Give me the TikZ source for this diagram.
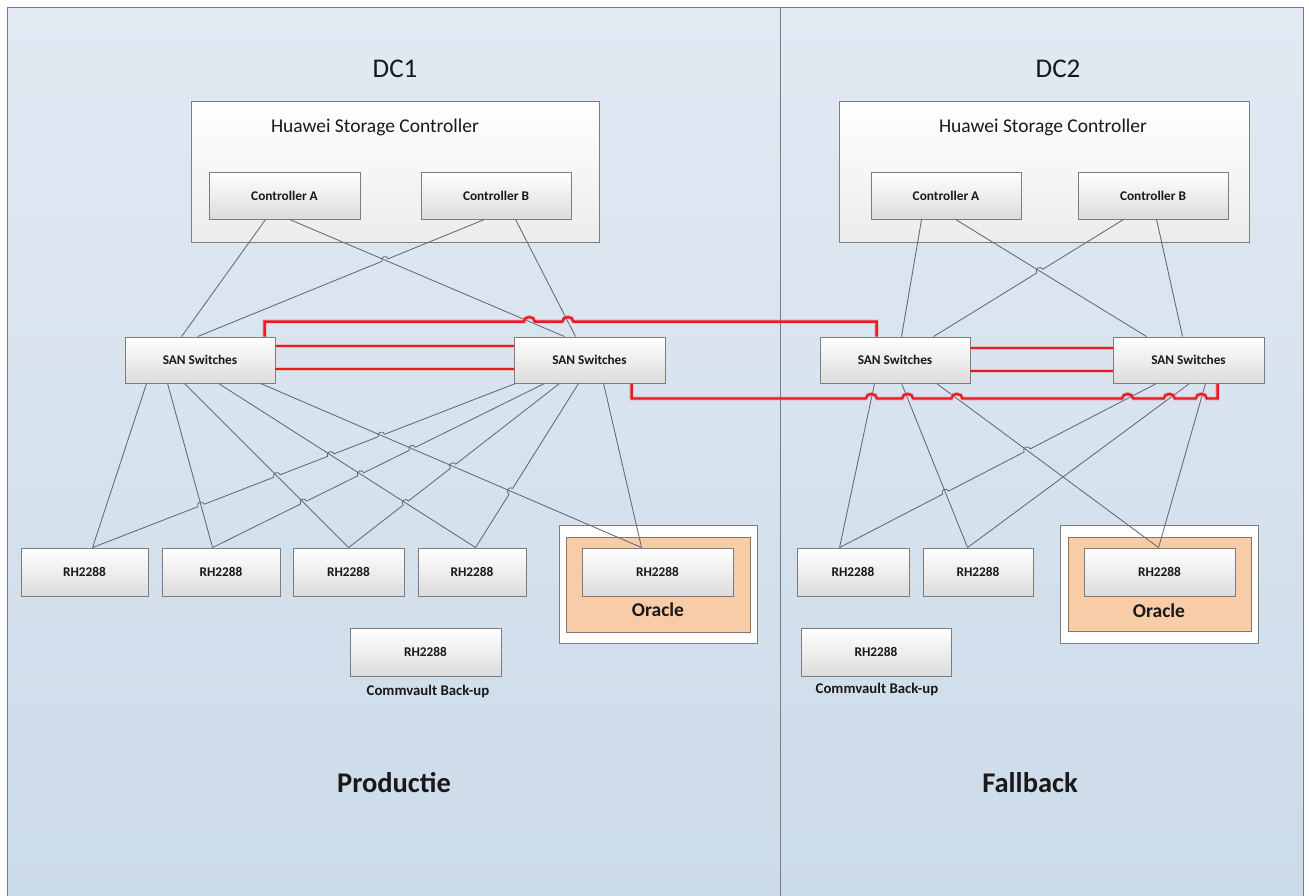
\documentclass[tikz,border=0pt]{standalone}
\usepackage{fontspec}
\setmainfont{Carlito}
\usetikzlibrary{calc,intersections,shadows}
\definecolor{bgtop}{RGB}{225,234,243}
\definecolor{bgbot}{RGB}{204,219,233}
\definecolor{framecol}{RGB}{120,125,130}
\definecolor{wirecol}{RGB}{96,106,116}
\definecolor{redcol}{RGB}{232,28,36}
\definecolor{redglow}{RGB}{240,150,155}
\definecolor{orfill}{RGB}{247,204,166}
\definecolor{oredge}{RGB}{140,115,95}
\definecolor{boxedge}{RGB}{125,125,125}
\definecolor{boxbot}{RGB}{220,220,220}
\definecolor{bigbot}{RGB}{236,236,236}
\definecolor{txt}{RGB}{25,25,25}
\tikzset{
  every node/.style={text=txt},
  box/.style={draw=boxedge, line width=0.9pt, top color=white, bottom color=boxbot, inner sep=0pt,
    font=\bfseries\fontsize{13.3}{15}\selectfont,
    drop shadow={shadow xshift=1.3pt, shadow yshift=-1.3pt, opacity=0.35, fill=black!60}},
  bigbox/.style={draw=boxedge, line width=0.9pt, top color=white, bottom color=bigbot, inner sep=0pt,
    drop shadow={shadow xshift=1.3pt, shadow yshift=-1.3pt, opacity=0.3, fill=black!60}},
  outerbox/.style={draw=boxedge, line width=0.9pt, fill=white, inner sep=0pt,
    drop shadow={shadow xshift=1.3pt, shadow yshift=-1.3pt, opacity=0.3, fill=black!60}},
  orangebox/.style={draw=oredge, line width=0.9pt, fill=orfill, inner sep=0pt},
  wire/.style={draw=wirecol, line width=0.85pt},
  redwire/.style={draw=redcol, line width=2.4pt, line join=miter,
    preaction={draw=redglow, line width=4.2pt, opacity=0.55}},
  ghop/.style args={#1/#2/#3}{insert path={-- ($(#1)!3.5pt!(#2)$) to[bend right=90,looseness=1.7] ($(#1)!3.5pt!(#3)$)}},
  rhop/.style args={#1/#2/#3}{insert path={-- ($(#1)!5.5pt!(#2)$) to[bend left=90,looseness=1.4] ($(#1)!5.5pt!(#3)$)}},
  titletext/.style={inner sep=0pt, font=\fontsize{27}{30}\selectfont},
  bigtext/.style={inner sep=0pt, font=\bfseries\fontsize{28.5}{32}\selectfont},
  smalltext/.style={inner sep=0pt, font=\bfseries\fontsize{14.8}{17}\selectfont},
}
\begin{document}
\begin{tikzpicture}[x=1pt,y=-1pt]
\useasboundingbox (0,0) rectangle (1309,895);
\fill[white] (0,0) rectangle (1309,895);
\shade[top color=bgtop, bottom color=bgbot] (7,7) rectangle (1303,895);
\draw[framecol, line width=1pt] (7,896) -- (7,7) -- (1303,7) -- (1303,896);
\draw[framecol, line width=1pt] (780,7) -- (780,896);

% ---------- titles ----------
\node[titletext] (dc1) at (395,69) {DC1};
\node[titletext] (dc2) at (1058,69) {DC2};
\node[bigtext] (prod) at (394,783) {Productie};
\node[bigtext] (fall) at (1030,783) {Fallback};

% ---------- DC1 boxes ----------
\node[bigbox, minimum width=408pt, minimum height=141pt] (hsc1) at (395,171.5) {};
\node[inner sep=0pt, font=\fontsize{19.5}{22}\selectfont] (hst1) at (375,127) {Huawei Storage Controller};
\node[box, minimum width=151pt, minimum height=47pt] (ca1) at (284.5,195.5) {Controller A};
\node[box, minimum width=150pt, minimum height=47pt] (cb1) at (496,195.5) {Controller B};
\node[box, minimum width=150pt, minimum height=46pt] (sw1) at (200,360) {SAN Switches};
\node[box, minimum width=151pt, minimum height=46pt] (sw2) at (589.5,360) {SAN Switches};
\node[box, minimum width=127pt, minimum height=48pt] (rh1) at (84.5,572) {RH2288};
\node[box, minimum width=118pt, minimum height=48pt] (rh2) at (221,572) {RH2288};
\node[box, minimum width=111pt, minimum height=48pt] (rh3) at (348.5,572) {RH2288};
\node[box, minimum width=108pt, minimum height=48pt] (rh4) at (472,572) {RH2288};
\node[outerbox, minimum width=198pt, minimum height=118pt] (or1) at (658,584) {};
\node[orangebox, minimum width=184pt, minimum height=95pt] (og1) at (658,584.5) {};
\node[box, minimum width=151pt, minimum height=48pt] (orh1) at (657.5,572) {RH2288};
\node[inner sep=0pt, font=\bfseries\fontsize{19.5}{22}\selectfont] (ot1) at (658,610) {Oracle};
\node[box, minimum width=151pt, minimum height=48pt] (cv1) at (425.5,652) {RH2288};
\node[smalltext] (cvl1) at (428,691) {Commvault Back-up};

% ---------- DC2 boxes ----------
\node[bigbox, minimum width=410pt, minimum height=141pt] (hsc2) at (1044,171.5) {};
\node[inner sep=0pt, font=\fontsize{19.5}{22}\selectfont] (hst2) at (1043,127) {Huawei Storage Controller};
\node[box, minimum width=150pt, minimum height=47pt] (ca2) at (946,195.5) {Controller A};
\node[box, minimum width=150pt, minimum height=47pt] (cb2) at (1153,195.5) {Controller B};
\node[box, minimum width=150pt, minimum height=46pt] (sw3) at (895,360) {SAN Switches};
\node[box, minimum width=151pt, minimum height=46pt] (sw4) at (1188.5,360) {SAN Switches};
\node[box, minimum width=112pt, minimum height=48pt] (rh5) at (853,572) {RH2288};
\node[box, minimum width=110pt, minimum height=48pt] (rh6) at (978,572) {RH2288};
\node[outerbox, minimum width=198pt, minimum height=118pt] (or2) at (1159,584) {};
\node[orangebox, minimum width=183pt, minimum height=94pt] (og2) at (1159.5,584) {};
\node[box, minimum width=151pt, minimum height=48pt] (orh2) at (1159.5,572) {RH2288};
\node[inner sep=0pt, font=\bfseries\fontsize{19.5}{22}\selectfont] (ot2) at (1159,611) {Oracle};
\node[box, minimum width=150pt, minimum height=48pt] (cv2) at (876,652) {RH2288};
\node[smalltext] (cvl2) at (877,689) {Commvault Back-up};

% ---------- connection points ----------
% DC1 upper
\coordinate (l1s) at ([xshift=57pt]ca1.south west);
\coordinate (l1e) at ([xshift=57pt]sw1.north west);
\coordinate (l2s) at ([xshift=81pt]ca1.south west);
\coordinate (l2e) at ([xshift=51pt]sw2.north west);
\coordinate (l3s) at ([xshift=64pt]cb1.south west);
\coordinate (l3e) at ([xshift=73pt]sw1.north west);
\coordinate (l4s) at ([xshift=95pt]cb1.south west);
\coordinate (l4e) at ([xshift=62pt]sw2.north west);
% DC2 upper
\coordinate (m1s) at ([xshift=51pt]ca2.south west);
\coordinate (m1e) at ([xshift=82pt]sw3.north west);
\coordinate (m2s) at ([xshift=85pt]ca2.south west);
\coordinate (m2e) at ([xshift=34pt]sw4.north west);
\coordinate (m3s) at ([xshift=46pt]cb2.south west);
\coordinate (m3e) at ([xshift=114pt]sw3.north west);
\coordinate (m4s) at ([xshift=79pt]cb2.south west);
\coordinate (m4e) at ([xshift=70pt]sw4.north west);
% DC1 lower
\coordinate (p1) at ([xshift=72pt]rh1.north west);
\coordinate (p2) at ([xshift=51pt]rh2.north west);
\coordinate (p3) at ([xshift=56pt]rh3.north west);
\coordinate (p4) at ([xshift=58pt]rh4.north west);
\coordinate (p5) at ([xshift=60pt]orh1.north west);
\coordinate (a1s) at ([xshift=22pt]sw1.south west);
\coordinate (a2s) at ([xshift=43pt]sw1.south west);
\coordinate (a3s) at ([xshift=60pt]sw1.south west);
\coordinate (a4s) at ([xshift=94pt]sw1.south west);
\coordinate (a5s) at ([xshift=136pt]sw1.south west);
\coordinate (b1s) at ([xshift=2pt]sw2.south west);
\coordinate (b2s) at ([xshift=31pt]sw2.south west);
\coordinate (b3s) at ([xshift=46pt]sw2.south west);
\coordinate (b4s) at ([xshift=65pt]sw2.south west);
\coordinate (b5s) at ([xshift=90pt]sw2.south west);
% DC2 lower
\coordinate (q5) at ([xshift=43pt]rh5.north west);
\coordinate (q6) at ([xshift=45pt]rh6.north west);
\coordinate (qo) at ([xshift=75pt]orh2.north west);
\coordinate (n1s) at ([xshift=55pt]sw3.south west);
\coordinate (n2s) at ([xshift=82pt]sw3.south west);
\coordinate (n3s) at ([xshift=117pt]sw3.south west);
\coordinate (n4s) at ([xshift=44pt]sw4.south west);
\coordinate (n5s) at ([xshift=77pt]sw4.south west);
\coordinate (n6s) at ([xshift=93pt]sw4.south west);

% ---------- plain gray wires ----------
\draw[wire] (l1s) -- (l1e);
\draw[wire, name path=L2] (l2s) -- (l2e);
\draw[wire, name path=L4] (l4s) -- (l4e);
\path[name path=L3] (l3s) -- (l3e);
\draw[wire] (m1s) -- (m1e);
\draw[wire, name path=M2] (m2s) -- (m2e);
\draw[wire] (m4s) -- (m4e);
\path[name path=M3] (m3s) -- (m3e);

\draw[wire] (a1s) -- (p1);
\draw[wire, name path=A2] (a2s) -- (p2);
\draw[wire, name path=A3] (a3s) -- (p3);
\draw[wire, name path=A4] (a4s) -- (p4);
\draw[wire, name path=A5] (a5s) -- (p5);
\path[name path=B1] (b1s) -- (p1);
\path[name path=B2] (b2s) -- (p2);
\path[name path=B3] (b3s) -- (p3);
\path[name path=B4] (b4s) -- (p4);
\draw[wire] (b5s) -- (p5);

\draw[wire, name path=N1] (n1s) -- (q5);
\draw[wire, name path=N2] (n2s) -- (q6);
\draw[wire, name path=N3] (n3s) -- (qo);
\path[name path=N4] (n4s) -- (q5);
\draw[wire, name path=N5] (n5s) -- (q6);
\draw[wire, name path=N6] (n6s) -- (qo);

% ---------- crossings ----------
\path[name intersections={of=L2 and L3, by=k23}];
\path[name intersections={of=M2 and M3, by=j23}];
\path[name intersections={of=A5 and B1, by=x51}];
\path[name intersections={of=A4 and B1, by=x41}];
\path[name intersections={of=A3 and B1, by=x31}];
\path[name intersections={of=A2 and B1, by=x21}];
\path[name intersections={of=A5 and B2, by=x52}];
\path[name intersections={of=A4 and B2, by=x42}];
\path[name intersections={of=A3 and B2, by=x32}];
\path[name intersections={of=A5 and B3, by=x53}];
\path[name intersections={of=A4 and B3, by=x43}];
\path[name intersections={of=A5 and B4, by=x54}];
\path[name intersections={of=N3 and N4, by=y34}];
\path[name intersections={of=N2 and N4, by=y24}];

% ---------- wires with line jumps ----------
\draw[wire] (l3s) [ghop=k23/l3s/l3e] -- (l3e);
\draw[wire] (m3s) [ghop=j23/m3s/m3e] -- (m3e);
\draw[wire] (b1s) [ghop=x51/b1s/p1] [ghop=x41/b1s/p1] [ghop=x31/b1s/p1] [ghop=x21/b1s/p1] -- (p1);
\draw[wire] (b2s) [ghop=x52/b2s/p2] [ghop=x42/b2s/p2] [ghop=x32/b2s/p2] -- (p2);
\draw[wire] (b3s) [ghop=x53/b3s/p3] [ghop=x43/b3s/p3] -- (p3);
\draw[wire] (b4s) [ghop=x54/b4s/p4] -- (p4);
\draw[wire] (n4s) [ghop=y34/n4s/q5] [ghop=y24/n4s/q5] -- (q5);

% ---------- red inter-switch links ----------
\draw[redwire] ([yshift=14pt]sw1.east) -- ([yshift=14pt]sw2.west);
\draw[redwire] ([yshift=-9pt]sw1.east) -- ([yshift=-9pt]sw2.west);
\draw[redwire] ([yshift=12pt]sw3.east) -- ([yshift=12pt]sw4.west);
\draw[redwire] ([yshift=-11pt]sw3.east) -- ([yshift=-11pt]sw4.west);

% upper long link sw1 -> sw3
\coordinate (r1a) at ([xshift=140pt]sw1.north west);
\coordinate (r1b) at ([yshift=15pt]r1a);
\coordinate (r1d) at ([xshift=57pt]sw3.north west);
\coordinate (r1c) at (r1d |- r1b);
\path[name path=R1] (r1b) -- (r1c);
\path[name intersections={of=R1 and L2, by=i1}];
\path[name intersections={of=R1 and L4, by=i2}];
\draw[redwire] (r1a) -- (r1b) [rhop=i1/r1b/r1c] [rhop=i2/r1b/r1c] -- (r1c) -- (r1d);

% lower long link sw2 -> sw4
\coordinate (r4a) at ([xshift=118pt]sw2.south west);
\coordinate (r4b) at ([yshift=-15pt]r4a);
\coordinate (r4d) at ([xshift=105pt]sw4.south west);
\coordinate (r4c) at (r4d |- r4b);
\path[name path=R4] (r4b) -- (r4c);
\path[name intersections={of=R4 and N1, by=h1}];
\path[name intersections={of=R4 and N2, by=h2}];
\path[name intersections={of=R4 and N3, by=h3}];
\path[name intersections={of=R4 and N4, by=h4}];
\path[name intersections={of=R4 and N5, by=h5}];
\path[name intersections={of=R4 and N6, by=h6}];
\draw[redwire] (r4a) -- (r4b) [rhop=h1/r4b/r4c] [rhop=h2/r4b/r4c] [rhop=h3/r4b/r4c]
  [rhop=h4/r4b/r4c] [rhop=h5/r4b/r4c] [rhop=h6/r4b/r4c] -- (r4c) -- (r4d);
\end{tikzpicture}
\end{document}
